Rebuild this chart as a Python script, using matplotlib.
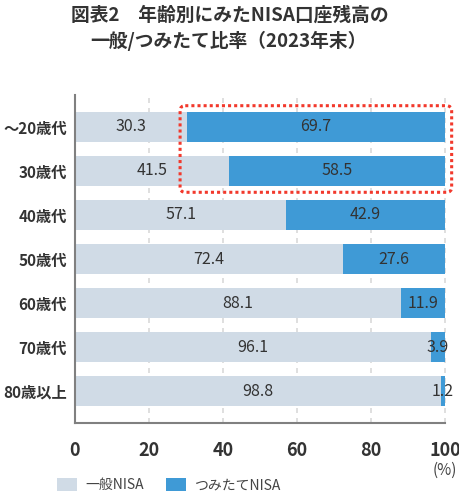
import matplotlib
matplotlib.use("Agg")
import matplotlib.pyplot as plt
from matplotlib.patches import FancyBboxPatch, Patch
import numpy as np

plt.rcParams['font.family'] = ['Noto Sans CJK JP', 'DejaVu Sans']

# data
ages = ['〜20歳代', '30歳代', '40歳代', '50歳代', '60歳代', '70歳代', '80歳以上']
ippan = [30.3, 41.5, 57.1, 72.4, 88.1, 96.1, 98.8]
tsumitate = [69.7, 58.5, 42.9, 27.6, 11.9, 3.9, 1.2]
xticks = [0, 20, 40, 60, 80, 100]
series_names = ['一般NISA', 'つみたてNISA']
highlight_rows = [0, 1]

c_light = '#d0dbe6'
c_blue = '#3f9ad6'
c_text = '#333333'
c_red = '#f2392c'

fig = plt.figure(figsize=(4.6, 4.96), dpi=100)
ax = fig.add_axes([75/460, 1 - 423/496, 370/460, 328/496])

y = np.arange(len(ages))
h = 0.68
ax.barh(y, ippan, height=h, color=c_light, zorder=2)
ax.barh(y, tsumitate, left=ippan, height=h, color=c_blue, zorder=2)

for i in range(len(ages)):
    ax.text(ippan[i] / 2, y[i], f'{ippan[i]:.1f}', ha='center', va='center',
            fontsize=11.5, color=c_text, zorder=3)
    ax.text(ippan[i] + tsumitate[i] / 2, y[i], f'{tsumitate[i]:.1f}', ha='center',
            va='center', fontsize=11.5, color=c_text, zorder=3)

ax.set_xlim(0, 100)
ax.set_ylim(len(ages) - 1 + 0.727, -0.727)
ax.set_yticks(y)
ax.set_yticklabels(ages, fontsize=11, fontweight='bold', color=c_text)
ax.set_xticks(xticks)
ax.set_xticklabels([str(t) for t in xticks], fontsize=13, fontweight='bold', color=c_text)
ax.tick_params(axis='both', length=0)
ax.tick_params(axis='y', pad=6)
ax.tick_params(axis='x', pad=13)

for t in xticks[1:]:
    ax.axvline(t, color='#d9d9d9', lw=1.2, ls=(0, (3, 3)), zorder=1, clip_on=False)

for s in ['top', 'right']:
    ax.spines[s].set_visible(False)
for s in ['left', 'bottom']:
    ax.spines[s].set_color('#808080')
    ax.spines[s].set_linewidth(1.5)
    ax.spines[s].set_zorder(4)

# red dotted highlight box around the young rows
x0, x1 = 28.4, 101.8
y0 = highlight_rows[0] - 0.484
y1 = highlight_rows[-1] + 0.484
px_x = 370 / 100
px_y = 44.0
box = FancyBboxPatch((x0, y0), x1 - x0, y1 - y0,
                     boxstyle='round,pad=0,rounding_size=1.4',
                     mutation_aspect=px_x / px_y,
                     fill=False, edgecolor=c_red, lw=2.2, ls=(0, (1, 1)),
                     clip_on=False, zorder=5)
ax.add_patch(box)

fig.text(230/460, 1 - 15/496, '図表2　年齢別にみたNISA口座残高の', ha='center', va='center',
         fontsize=13.5, fontweight='bold', color=c_text)
fig.text(228/460, 1 - 41/496, '一般/つみたて比率（2023年末）', ha='center', va='center',
         fontsize=13.5, fontweight='bold', color=c_text)

fig.text(445/460, 1 - 470/496, '(%)', ha='center', va='center', fontsize=11, color='#444444')

handles = [Patch(facecolor=c_light), Patch(facecolor=c_blue)]
fig.legend(handles, series_names, loc='center left', bbox_to_anchor=(50/460, 1 - 485/496),
           ncol=2, frameon=False, fontsize=10, handlelength=1.45, handleheight=1.1,
           handletextpad=0.6, columnspacing=1.6, borderpad=0, labelcolor='#444444')

fig.savefig('out.png', dpi=100)
